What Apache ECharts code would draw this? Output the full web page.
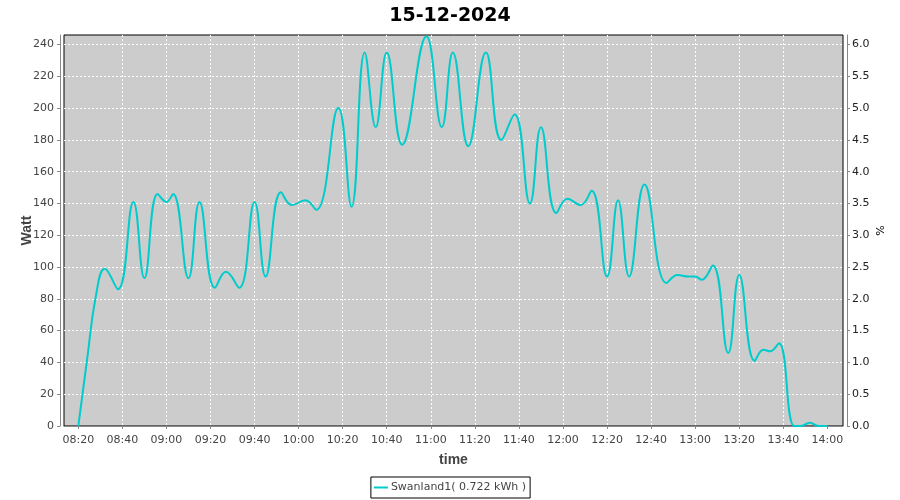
<!DOCTYPE html>
<html>
<head>
<meta charset="utf-8">
<script src="https://cdn.jsdelivr.net/npm/echarts@6/dist/echarts.min.js"></script>
<style>
  html, body { margin: 0; padding: 0; background: #fff; }
  #chart { width: 900px; height: 500px; }
</style>
</head>
<body>
<div id="chart"></div>
<script>
const chartTitle = "15-12-2024";
const seriesName = "Swanland1( 0.722 kWh )";

const times = ["08:20","08:24","08:28","08:32","08:38","08:45","08:50","08:56","09:00","09:03",
  "09:10","09:15","09:22","09:27","09:33","09:40","09:45","09:52","09:57","10:03",
  "10:08","10:18","10:24","10:30","10:35","10:40","10:47","10:58","11:05","11:10",
  "11:17","11:25","11:32","11:38","11:45","11:50","11:57","12:02","12:08","12:13",
  "12:20","12:25","12:30","12:37","12:47","12:52","12:57","13:00","13:03","13:08",
  "13:15","13:20","13:27","13:31","13:34","13:38","13:45","13:48","13:52","13:56","14:00"];
const watts = [0,42,82,99,86,141,93,146,141,146,
  93,141,87,97,87,141,94,147,139,142,
  136,200,138,235,188,235,177,245,188,235,
  176,235,180,196,140,188,134,143,139,148,
  94,142,94,152,90,95,94,94,92,101,
  46,95,41,48,47,52,0,0,2,0,0];

const xTickLabels = ["08:20","08:40","09:00","09:20","09:40","10:00","10:20","10:40","11:00",
  "11:20","11:40","12:00","12:20","12:40","13:00","13:20","13:40","14:00"];
const leftTicks = [0,20,40,60,80,100,120,140,160,180,200,220,240];
const rightTicks = [0,0.5,1,1.5,2,2.5,3,3.5,4,4.5,5,5.5,6];

function toMin(s) { const p = s.split(":"); return (+p[0]) * 60 + (+p[1]); }
function fmt(m) { const h = Math.floor(m / 60), mm = Math.round(m % 60); return (h < 10 ? "0" : "") + h + ":" + (mm < 10 ? "0" : "") + mm; }

const seriesData = times.map((t, i) => [toMin(t), watts[i]]);
const xTicks = xTickLabels.map(toMin);

const chart = echarts.init(document.getElementById('chart'), null, { renderer: 'canvas' });
const labelFont = { fontFamily: 'DejaVu Sans', fontSize: 11, color: '#444' };
const gridLine = { show: true, showMinLine: false, showMaxLine: false,
  lineStyle: { color: '#fff', type: [2, 2], width: 1 } };
chart.setOption({
  animation: false,
  backgroundColor: '#fff',
  title: {
    text: chartTitle, left: 'center', top: 2,
    textStyle: { fontFamily: 'DejaVu Sans', fontWeight: 'bold', fontSize: 19, color: '#000' }
  },
  grid: {
    left: 64, right: 57, top: 35, bottom: 74,
    show: true, backgroundColor: '#cccccc', borderColor: '#000', borderWidth: 1
  },
  legend: {
    left: 'center', top: 477,
    data: [seriesName],
    icon: 'rect', itemWidth: 14, itemHeight: 2, itemGap: 0,
    padding: [5, 4, 5, 3],
    borderColor: '#000', borderWidth: 1, borderRadius: 0,
    textStyle: { fontFamily: 'DejaVu Sans', fontSize: 11, color: '#444', padding: [0, 0, 0, -2] }
  },
  xAxis: {
    type: 'value', min: toMin("08:13") + 0.5, max: toMin("14:07") + 0.1,
    offset: 4,
    name: 'time', nameLocation: 'middle', nameGap: 23, nameMoveOverlap: false,
    nameTextStyle: { fontFamily: 'Liberation Sans', fontWeight: 'bold', fontSize: 14, color: '#444' },
    axisLine: { show: true, lineStyle: { color: '#888', width: 1 } },
    axisTick: { show: true, length: 3, customValues: xTicks, lineStyle: { color: '#888' } },
    axisLabel: Object.assign({ margin: 5, customValues: xTicks, formatter: v => fmt(v) }, labelFont),
    splitLine: gridLine
  },
  yAxis: [{
    type: 'value', min: 0, max: 246, interval: 20, position: 'left', offset: 4,
    name: 'Watt', nameLocation: 'middle', nameGap: 26, nameMoveOverlap: false,
    nameTextStyle: { fontFamily: 'Liberation Sans', fontWeight: 'bold', fontSize: 14, color: '#444' },
    axisLine: { show: true, lineStyle: { color: '#888', width: 1 } },
    axisTick: { show: true, length: 3, lineStyle: { color: '#888' } },
    axisLabel: Object.assign({ margin: 6, showMaxLabel: false,
      formatter: v => (leftTicks.indexOf(v) >= 0 ? String(v) : '') }, labelFont),
    splitLine: gridLine
  }, {
    type: 'value', min: 0, max: 6.15, interval: 0.5, position: 'right', offset: 4,
    name: '%', nameLocation: 'middle', nameGap: 29, nameMoveOverlap: false,
    nameTextStyle: { fontFamily: 'DejaVu Sans', fontSize: 11, color: '#000' },
    axisLine: { show: true, lineStyle: { color: '#888', width: 1 } },
    axisTick: { show: true, length: 3, lineStyle: { color: '#888' } },
    axisLabel: { margin: 5, showMaxLabel: false, fontFamily: 'DejaVu Sans', fontSize: 11, color: '#222',
      formatter: v => (rightTicks.some(r => Math.abs(r - v) < 1e-6) ? v.toFixed(1) : '') },
    splitLine: { show: false }
  }],
  series: [{
    name: seriesName, type: 'line', yAxisIndex: 0,
    data: seriesData, smooth: 0.45, showSymbol: false, clip: true,
    lineStyle: { color: '#00cccc', width: 2 }, itemStyle: { color: '#00cccc' }
  }]
});
</script>
</body>
</html>
